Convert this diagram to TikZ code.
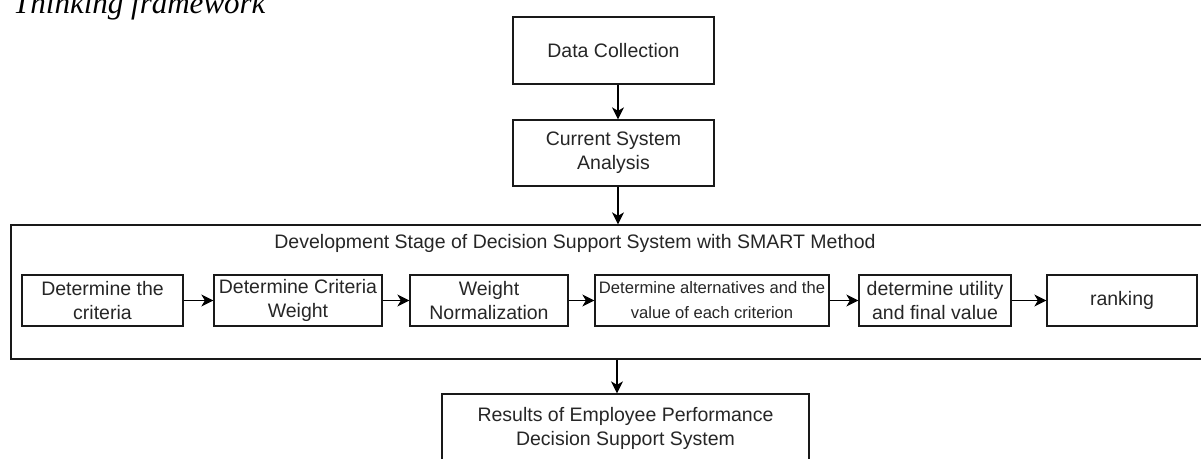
\documentclass[tikz,border=0pt]{standalone}
\usepackage{fontspec}
\setmainfont{Liberation Sans}
\newfontfamily\headfont{Liberation Serif}
\usetikzlibrary{arrows.meta}
\tikzset{
  box/.style={draw=black!90, line width=1.3pt, rectangle, align=center, inner sep=0pt,
    text=black!85, font=\fontsize{19.5}{24}\selectfont},
  smallbox/.style={box, font=\fontsize{16.6}{25}\selectfont},
  arr/.style={draw=black, line width=1.3pt, -{Stealth[length=12pt,width=12pt,inset=3.5pt]}},
}
\begin{document}
\begin{tikzpicture}[x=1pt,y=-1pt]
\useasboundingbox (0,0) rectangle (1201,458);
\clip (0,0) rectangle (1201,458);
\node[anchor=base west, inner sep=0pt, font=\headfont\itshape\fontsize{31}{36}\selectfont] (head) at (13,13) {Thinking framework};
\node[box, minimum width=201pt, minimum height=67pt] (dc) at (613.5,50.5) {Data Collection};
\node[box, minimum width=201pt, minimum height=66pt] (csa) at (613.5,153) {Current System\\Analysis};
\node[box, minimum width=1199pt, minimum height=134pt] (outer) at (610.5,292) {};
\node[inner sep=0pt, text=black!85, font=\fontsize{19.5}{24}\selectfont] (stage) at (575,243) {Development Stage of Decision Support System with SMART Method};
\node[box, minimum width=161pt, minimum height=51pt] (b1) at (102.5,300.5) {Determine the\\criteria};
\node[box, minimum width=168pt, minimum height=51pt] (b2) at (298,300.5) {Determine Criteria\\Weight};
\node[box, minimum width=158pt, minimum height=51pt] (b3) at (489,300.5) {Weight\\Normalization};
\node[smallbox, minimum width=234pt, minimum height=51pt] (b4) at (712,300.5) {Determine alternatives and the\\value of each criterion};
\node[box, minimum width=152pt, minimum height=51pt] (b5) at (935,300.5) {determine utility\\and final value};
\node[box, minimum width=150pt, minimum height=51pt] (b6) at (1122,300.5) {ranking};
\node[box, minimum width=367pt, minimum height=68pt] (res) at (625.5,428) {Results of Employee Performance\\Decision Support System};
\coordinate (ax) at (618,0);
\draw[arr] (dc.south -| ax) -- (csa.north -| ax);
\draw[arr] (csa.south -| ax) -- (outer.north -| ax);
\draw[arr] (b1) -- (b2);
\draw[arr] (b2) -- (b3);
\draw[arr] (b3) -- (b4);
\draw[arr] (b4) -- (b5);
\draw[arr] (b5) -- (b6);
\coordinate (bx) at (617,0);
\draw[arr] (outer.south -| bx) -- (res.north -| bx);
\end{tikzpicture}
\end{document}
